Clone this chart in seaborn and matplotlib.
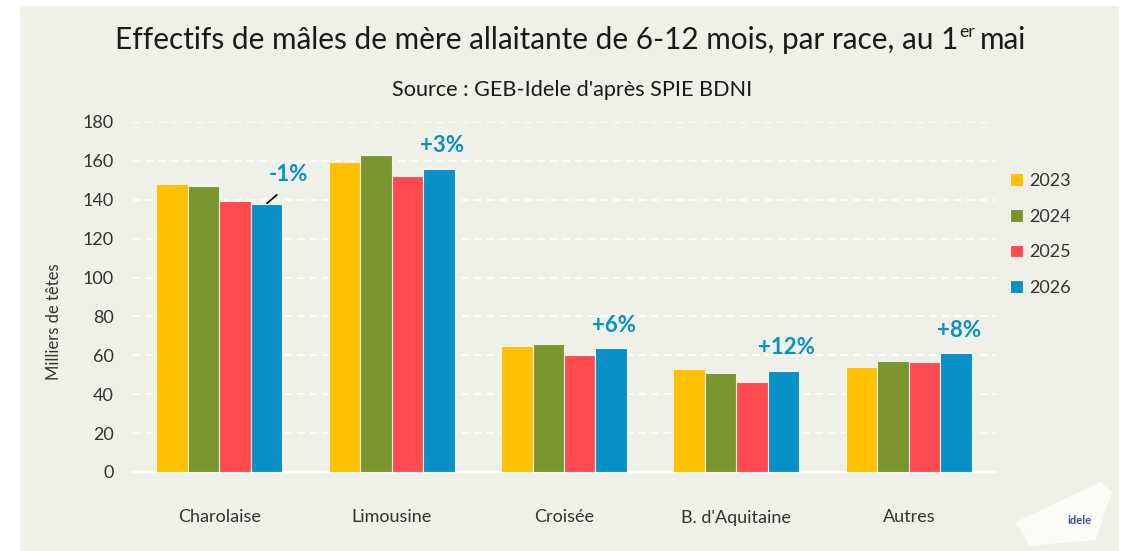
import numpy as np
import pandas as pd
import matplotlib
matplotlib.use("Agg")
import matplotlib.pyplot as plt
import seaborn as sns
from matplotlib.patches import Rectangle, Polygon

# ---------------- data ----------------
races = ["Charolaise", "Limousine", "Croisée", "B. d'Aquitaine", "Autres"]
years = ["2023", "2024", "2025", "2026"]
v2023 = [148.0, 159.5, 65.0, 52.8, 54.2]
v2024 = [147.2, 163.0, 65.8, 50.8, 56.9]
v2025 = [139.2, 152.0, 60.2, 46.4, 56.5]
v2026 = [137.8, 156.0, 63.6, 52.0, 61.0]
changes = ["-1%", "+3%", "+6%", "+12%", "+8%"]
y_ticks = [0, 20, 40, 60, 80, 100, 120, 140, 160, 180]
colors = ["#FFC000", "#7A942E", "#FF4B4F", "#0990C6"]

title_main = "Effectifs de mâles de mère allaitante de 6-12 mois, par race, au 1"
title_sup = "er"
title_end = "mai"
subtitle = "Source : GEB-Idele d'après SPIE BDNI"
ylabel = "Milliers de têtes"

df = pd.DataFrame({
    "race": races * 4,
    "year": np.repeat(years, len(races)),
    "value": v2023 + v2024 + v2025 + v2026,
})

BG = "#EFF0E8"
TXT = "#333333"
W, H = 1126, 551

sns.set_theme(style="white")
plt.rcParams["font.family"] = ["Lato", "DejaVu Sans"]

fig = plt.figure(figsize=(W / 100, H / 100), dpi=100, facecolor="white")
fig.patches.append(Rectangle((20 / W, 0), (1119 - 20) / W, (H - 6) / H,
                             transform=fig.transFigure, facecolor=BG,
                             edgecolor="none", zorder=-10))

ax = fig.add_axes([133 / W, (H - 472) / H, 862 / W, 350 / H])
ax.set_facecolor("none")

sns.barplot(data=df, x="race", y="value", hue="year", palette=colors,
            saturation=1, width=0.73, edgecolor="#f2f2ea", linewidth=0.8,
            ax=ax, zorder=3, errorbar=None)

ax.set_ylim(0, 180)
ax.set_xlim(-0.5, len(races) - 0.5)
ax.set_yticks(y_ticks)
ax.yaxis.grid(True, color="white", linestyle=(0, (4, 3)), linewidth=1.3)
ax.set_axisbelow(True)
for s in ["top", "right", "left"]:
    ax.spines[s].set_visible(False)
ax.spines["bottom"].set_color("white")
ax.spines["bottom"].set_linewidth(1.6)

ax.tick_params(axis="y", length=0, pad=14, labelsize=13, labelcolor=TXT)
ax.tick_params(axis="x", which="major", length=0, pad=27, labelsize=13,
               labelcolor=TXT)
ax.set_xticks(np.arange(-0.5, len(races), 1), minor=True)
ax.tick_params(axis="x", which="minor", length=6, color="white", width=1.6)
ax.set_xlabel("")
ax.set_ylabel(ylabel, fontsize=12, color=TXT)
ax.yaxis.set_label_coords(-0.082, 0.43)

handles, labels = ax.get_legend_handles_labels()
ax.legend(handles, labels, loc="upper left",
          bbox_to_anchor=(1010 / W, (H - 173) / H), bbox_transform=fig.transFigure,
          frameon=False, fontsize=13, handlelength=0.7, handleheight=0.7,
          handletextpad=0.35, labelspacing=1.09, borderpad=0, borderaxespad=0,
          labelcolor=TXT)

# change annotations
for i, (lab, v) in enumerate(zip(changes, v2026)):
    if i == 0:
        ax.annotate(lab, xy=(i + 0.277, v + 0.4), xytext=(i + 0.40, v + 15),
                    ha="center", va="center", fontsize=16, fontweight="bold",
                    color="#0990C6", zorder=5,
                    arrowprops=dict(arrowstyle="-", color="black", lw=1.2,
                                    relpos=(0.5, 0), shrinkA=7, shrinkB=0))
    else:
        ax.text(i + 0.29, v + 12, lab, ha="center", va="center", fontsize=16,
                fontweight="bold", color="#0990C6", zorder=5)

# title with superscript
tfam = ["Lato", "DejaVu Sans"]
r = fig.canvas.get_renderer()
ty = 1 - 40 / H
t1 = fig.text(0, ty, title_main, fontsize=21.4, family=tfam, color="#1a1a1a",
              va="center", ha="left")
t2 = fig.text(0, ty + 8 / H, title_sup, fontsize=12.5, family=tfam,
              color="#1a1a1a", va="center", ha="left")
t3 = fig.text(0, ty, title_end, fontsize=21.4, family=tfam, color="#1a1a1a",
              va="center", ha="left")
w1 = t1.get_window_extent(r).width
w2 = t2.get_window_extent(r).width
w3 = t3.get_window_extent(r).width
gap = 6
total = w1 + w2 + gap + w3
x0 = 571 - total / 2
t1.set_x(x0 / W)
t2.set_x((x0 + w1 + 1) / W)
t3.set_x((x0 + w1 + w2 + gap) / W)

fig.text(572 / W, 1 - 90 / H, subtitle, fontsize=15.6, family=tfam,
         color="#1a1a1a", ha="center", va="center")

# logo approximation
fig.patches.append(Polygon([(1016 / W, 1 - 522 / H), (1100 / W, 1 - 482 / H),
                            (1112 / W, 1 - 492 / H), (1096 / W, 1 - 540 / H),
                            (1030 / W, 1 - 546 / H)], closed=True,
                           transform=fig.transFigure, facecolor="#fbfbf8",
                           edgecolor="none", zorder=-5))
fig.text(1080 / W, 1 - 520 / H, "idele", fontsize=8, fontweight="bold",
         color="#3b4f9c", ha="center", va="center")

fig.savefig("out.png", dpi=100, facecolor="white")
